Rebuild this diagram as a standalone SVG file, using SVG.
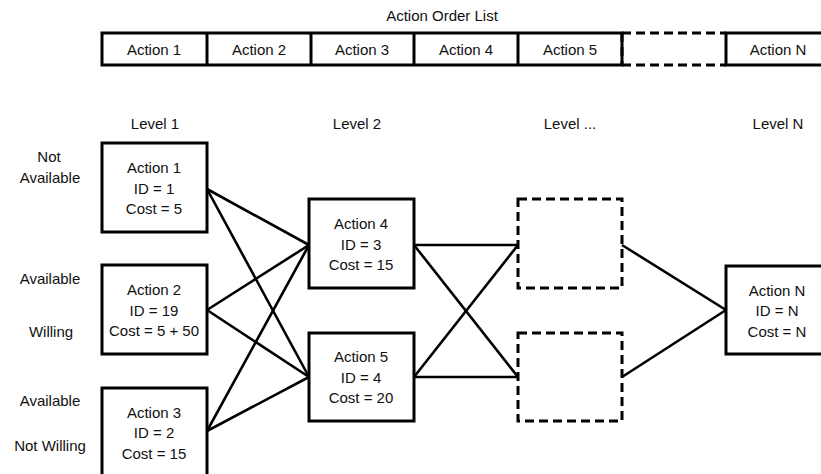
<svg xmlns="http://www.w3.org/2000/svg" width="821" height="474" viewBox="0 0 821 474">
  <style>
    text { font-family: "Liberation Sans", Arial, sans-serif; font-size: 15px; fill: #111; text-anchor: middle; }
    .box { fill: #fff; stroke: #000; stroke-width: 3; }
    .dash { fill: none; stroke: #000; stroke-width: 3; stroke-dasharray: 9 5; }
    .cell { fill: #fff; stroke: #000; stroke-width: 3; }
    .conn line { stroke: #000; stroke-width: 2.6; }
  </style>
  <rect width="821" height="474" fill="#fff"/>

  <!-- Action order list -->
  <g id="order-list">
    <text x="442" y="21">Action Order List</text>
    <rect class="cell" x="102" y="33" width="520" height="32"/>
    <line x1="207" y1="33" x2="207" y2="65" stroke="#000" stroke-width="3"/>
    <line x1="311" y1="33" x2="311" y2="65" stroke="#000" stroke-width="3"/>
    <line x1="414" y1="33" x2="414" y2="65" stroke="#000" stroke-width="3"/>
    <line x1="518" y1="33" x2="518" y2="65" stroke="#000" stroke-width="3"/>
    <path class="dash" d="M622 33 H726 M622 65 H726 M622 33 V65"/>
    <rect class="cell" x="726" y="33" width="104" height="32"/>
    <text x="154" y="55">Action 1</text>
    <text x="259" y="55">Action 2</text>
    <text x="362" y="55">Action 3</text>
    <text x="466" y="55">Action 4</text>
    <text x="570" y="55">Action 5</text>
    <text x="778" y="55">Action N</text>
  </g>

  <!-- Level headings -->
  <g id="levels">
    <text x="155" y="129">Level 1</text>
    <text x="357" y="129">Level 2</text>
    <text x="570" y="129">Level ...</text>
    <text x="778" y="129">Level N</text>
  </g>

  <!-- State labels -->
  <g id="states">
    <text x="49" y="162">Not</text>
    <text x="50" y="183">Available</text>
    <text x="50" y="284">Available</text>
    <text x="51" y="337">Willing</text>
    <text x="50" y="406">Available</text>
    <text x="50" y="451">Not Willing</text>
  </g>

  <!-- Connectors -->
  <g id="connectors" class="conn">
    <line x1="207" y1="189" x2="309" y2="245"/>
    <line x1="207" y1="189" x2="309" y2="377"/>
    <line x1="207" y1="310" x2="309" y2="245"/>
    <line x1="207" y1="310" x2="309" y2="377"/>
    <line x1="207" y1="431" x2="309" y2="245"/>
    <line x1="207" y1="431" x2="309" y2="377"/>
    <line x1="414" y1="245" x2="518" y2="245"/>
    <line x1="414" y1="245" x2="518" y2="377"/>
    <line x1="414" y1="377" x2="518" y2="245"/>
    <line x1="414" y1="377" x2="518" y2="377"/>
    <line x1="622" y1="245" x2="726" y2="310"/>
    <line x1="622" y1="377" x2="726" y2="310"/>
  </g>

  <g id="action1">
    <rect class="box" x="102" y="143" width="105" height="89"/>
    <text x="154" y="173">Action 1</text>
    <text x="154" y="194">ID = 1</text>
    <text x="154" y="214">Cost = 5</text>
  </g>
  <g id="action2">
    <rect class="box" x="102" y="265" width="105" height="89"/>
    <text x="154" y="295">Action 2</text>
    <text x="154" y="316">ID = 19</text>
    <text x="154" y="336">Cost = 5 + 50</text>
  </g>
  <g id="action3">
    <rect class="box" x="102" y="388" width="105" height="89"/>
    <text x="154" y="418">Action 3</text>
    <text x="154" y="438">ID = 2</text>
    <text x="154" y="459">Cost = 15</text>
  </g>
  <g id="action4">
    <rect class="box" x="309" y="199" width="105" height="89"/>
    <text x="361" y="229">Action 4</text>
    <text x="361" y="250">ID = 3</text>
    <text x="361" y="270">Cost = 15</text>
  </g>
  <g id="action5">
    <rect class="box" x="309" y="333" width="105" height="88"/>
    <text x="361" y="362">Action 5</text>
    <text x="361" y="383">ID = 4</text>
    <text x="361" y="403">Cost = 20</text>
  </g>
  <g id="pending1">
    <rect class="dash" x="518" y="199" width="104" height="89"/>
  </g>
  <g id="pending2">
    <rect class="dash" x="518" y="333" width="104" height="88"/>
  </g>
  <g id="actionN">
    <rect class="box" x="726" y="266" width="104" height="88"/>
    <text x="777" y="296">Action N</text>
    <text x="777" y="316">ID = N</text>
    <text x="777" y="337">Cost = N</text>
  </g>
</svg>
